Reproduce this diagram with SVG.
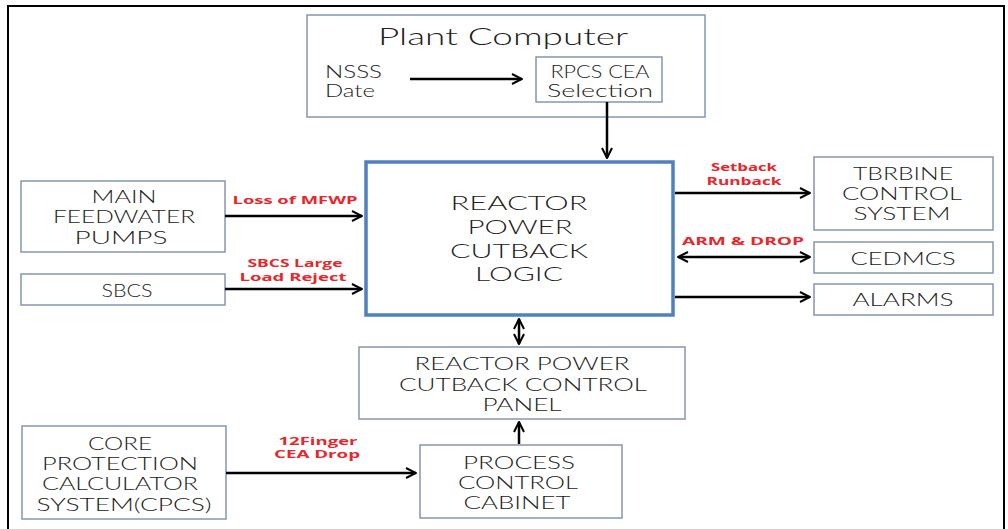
<svg xmlns="http://www.w3.org/2000/svg" width="1008" height="529" viewBox="0 0 1008 529">
<defs>
<style>
.box{fill:#fff;stroke:#8497b0;stroke-width:1.5}
.main{fill:#fff;stroke:#4f81bd;stroke-width:3.5}
.t{font-family:Lato,"Open Sans",sans-serif;font-weight:300;fill:#222;text-anchor:middle;dominant-baseline:central}
.s{text-anchor:start}
.lbl{font-family:"Open Sans","Noto Sans",sans-serif;fill:#e8262b;font-weight:bold;font-size:11px;text-anchor:middle;dominant-baseline:central}
.c{stroke:#000;stroke-width:2.5;fill:none}
</style>
<marker id="ah" viewBox="0 0 12 12" refX="11" refY="6" markerWidth="12" markerHeight="12" markerUnits="userSpaceOnUse" orient="auto-start-reverse">
<path d="M1,1 L11,6 L1,11" fill="none" stroke="#000" stroke-width="2"/>
</marker>
</defs>
<rect width="1008" height="529" fill="#fff"/>
<g id="frame">
<line x1="7" y1="6" x2="1005" y2="6" stroke="#000" stroke-width="2"/>
<line x1="8" y1="5" x2="8" y2="529" stroke="#000" stroke-width="2"/>
<line x1="1004" y1="5" x2="1004" y2="529" stroke="#000" stroke-width="2"/>
</g>
<g id="plant-computer">
<rect class="box" x="307" y="15" width="398" height="102"/>
<text class="t" x="503" y="35" font-size="24" textLength="250" lengthAdjust="spacingAndGlyphs">Plant  Computer</text>
<text class="t s" x="325" y="71" font-size="17" textLength="57" lengthAdjust="spacingAndGlyphs">NSSS</text>
<text class="t s" x="325" y="90" font-size="17" textLength="50" lengthAdjust="spacingAndGlyphs">Date</text>
</g>
<g id="rpcs-cea">
<rect class="box" x="536" y="57" width="126" height="45"/>
<text class="t" x="600" y="71" font-size="17" textLength="99" lengthAdjust="spacingAndGlyphs">RPCS CEA</text>
<text class="t" x="600" y="90" font-size="17" textLength="106" lengthAdjust="spacingAndGlyphs">Selection</text>
</g>
<g id="rpc-logic">
<rect class="main" x="366" y="162" width="307" height="153"/>
<text class="t" x="519" y="202" font-size="20" textLength="137" lengthAdjust="spacingAndGlyphs">REACTOR</text>
<text class="t" x="520" y="226" font-size="20" textLength="105" lengthAdjust="spacingAndGlyphs">POWER</text>
<text class="t" x="519" y="250" font-size="20" textLength="138" lengthAdjust="spacingAndGlyphs">CUTBACK</text>
<text class="t" x="519" y="273" font-size="20" textLength="88" lengthAdjust="spacingAndGlyphs">LOGIC</text>
</g>
<g id="mfwp">
<rect class="box" x="21" y="181" width="204" height="71"/>
<text class="t" x="124" y="196" font-size="18" textLength="65" lengthAdjust="spacingAndGlyphs">MAIN</text>
<text class="t" x="124" y="216" font-size="18" textLength="142" lengthAdjust="spacingAndGlyphs">FEEDWATER</text>
<text class="t" x="121" y="237" font-size="18" textLength="93" lengthAdjust="spacingAndGlyphs">PUMPS</text>
</g>
<g id="sbcs">
<rect class="box" x="21" y="274" width="204" height="31"/>
<text class="t" x="127" y="290" font-size="18" textLength="51" lengthAdjust="spacingAndGlyphs">SBCS</text>
</g>
<g id="turbine">
<rect class="box" x="814" y="157" width="179" height="73"/>
<text class="t" x="903" y="173" font-size="18" textLength="100" lengthAdjust="spacingAndGlyphs">TBRBINE</text>
<text class="t" x="902" y="193" font-size="18" textLength="120" lengthAdjust="spacingAndGlyphs">CONTROL</text>
<text class="t" x="902" y="213" font-size="18" textLength="97" lengthAdjust="spacingAndGlyphs">SYSTEM</text>
</g>
<g id="cedmcs">
<rect class="box" x="814" y="242" width="179" height="31"/>
<text class="t" x="903" y="258" font-size="18" textLength="105" lengthAdjust="spacingAndGlyphs">CEDMCS</text>
</g>
<g id="alarms">
<rect class="box" x="814" y="284" width="179" height="31"/>
<text class="t" x="903" y="299" font-size="18" textLength="101" lengthAdjust="spacingAndGlyphs">ALARMS</text>
</g>
<g id="control-panel">
<rect class="box" x="359" y="347" width="326" height="72"/>
<text class="t" x="522" y="363" font-size="18" textLength="215" lengthAdjust="spacingAndGlyphs">REACTOR POWER</text>
<text class="t" x="523" y="384" font-size="18" textLength="248" lengthAdjust="spacingAndGlyphs">CUTBACK CONTROL</text>
<text class="t" x="522" y="404" font-size="18" textLength="79" lengthAdjust="spacingAndGlyphs">PANEL</text>
</g>
<g id="process-cabinet">
<rect class="box" x="420" y="445" width="202" height="73"/>
<text class="t" x="519" y="462" font-size="18" textLength="112" lengthAdjust="spacingAndGlyphs">PROCESS</text>
<text class="t" x="518" y="482" font-size="18" textLength="120" lengthAdjust="spacingAndGlyphs">CONTROL</text>
<text class="t" x="517" y="502" font-size="18" textLength="107" lengthAdjust="spacingAndGlyphs">CABINET</text>
</g>
<g id="cpcs">
<rect class="box" x="22" y="426" width="204" height="93"/>
<text class="t" x="120" y="443" font-size="18" textLength="64" lengthAdjust="spacingAndGlyphs">CORE</text>
<text class="t" x="120" y="463" font-size="18" textLength="156" lengthAdjust="spacingAndGlyphs">PROTECTION</text>
<text class="t" x="120" y="483" font-size="18" textLength="156" lengthAdjust="spacingAndGlyphs">CALCULATOR</text>
<text class="t" x="124" y="504" font-size="18" textLength="175" lengthAdjust="spacingAndGlyphs">SYSTEM(CPCS)</text>
</g>
<g id="connectors">
<line class="c" x1="410" y1="79" x2="522" y2="79" marker-end="url(#ah)"/>
<line class="c" x1="607" y1="102" x2="607" y2="158" marker-end="url(#ah)"/>
<line class="c" x1="225" y1="216" x2="362" y2="216" marker-end="url(#ah)"/>
<line class="c" x1="225" y1="289" x2="362" y2="289" marker-end="url(#ah)"/>
<line class="c" x1="675" y1="193" x2="810" y2="193" marker-end="url(#ah)"/>
<line class="c" x1="678" y1="257" x2="810" y2="257" marker-start="url(#ah)" marker-end="url(#ah)"/>
<line class="c" x1="675" y1="297" x2="810" y2="297" marker-end="url(#ah)"/>
<line class="c" x1="519" y1="319" x2="519" y2="344" marker-start="url(#ah)" marker-end="url(#ah)"/>
<line class="c" x1="519" y1="444" x2="519" y2="422" marker-end="url(#ah)"/>
<line class="c" x1="226" y1="473" x2="416" y2="473" marker-end="url(#ah)"/>
</g>
<g id="labels">
<text class="lbl" x="295" y="199" textLength="125" lengthAdjust="spacingAndGlyphs">Loss of MFWP</text>
<text class="lbl" x="295" y="262" textLength="95" lengthAdjust="spacingAndGlyphs">SBCS Large</text>
<text class="lbl" x="293" y="276" textLength="107" lengthAdjust="spacingAndGlyphs">Load Reject</text>
<text class="lbl" x="744" y="166" textLength="66" lengthAdjust="spacingAndGlyphs">Setback</text>
<text class="lbl" x="744" y="180" textLength="75" lengthAdjust="spacingAndGlyphs">Runback</text>
<text class="lbl" x="743" y="240" textLength="122" lengthAdjust="spacingAndGlyphs">ARM &amp; DROP</text>
<text class="lbl" x="318" y="440" textLength="79" lengthAdjust="spacingAndGlyphs">12Finger</text>
<text class="lbl" x="317" y="453" textLength="86" lengthAdjust="spacingAndGlyphs">CEA Drop</text>
</g>
</svg>
